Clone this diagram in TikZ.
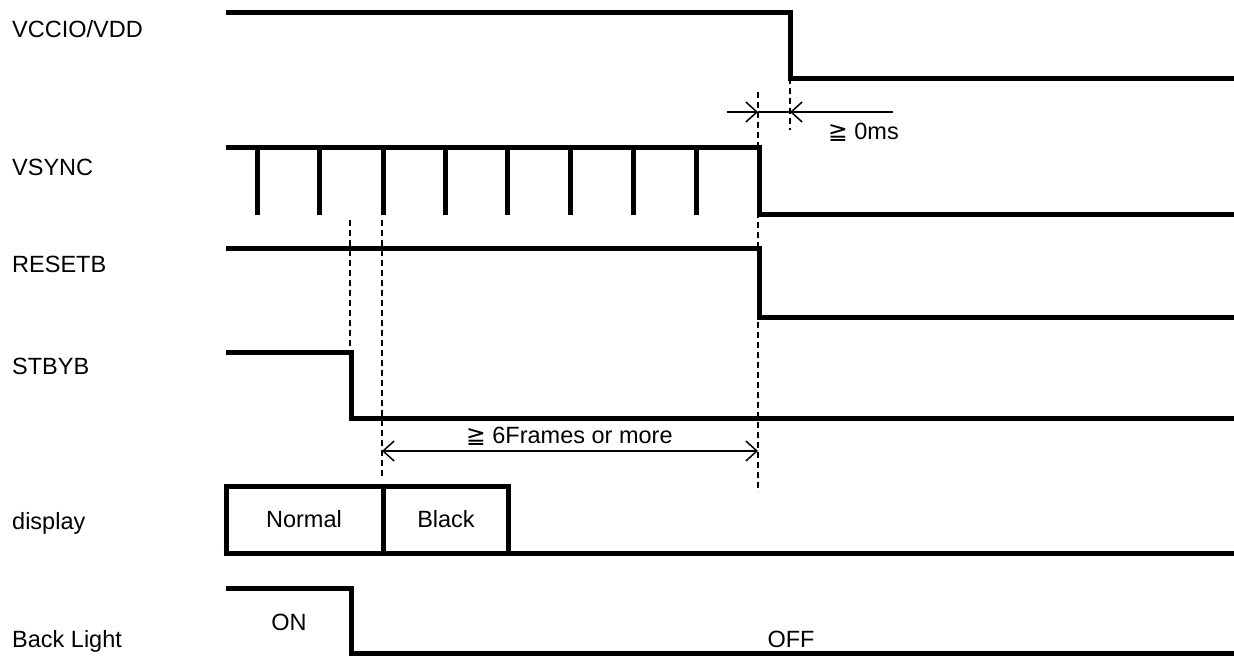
\documentclass[tikz,border=0pt]{standalone}
\usepackage{fontspec}
\setmainfont{Liberation Sans}
\newfontfamily\symfont{DejaVu Sans}
\usetikzlibrary{arrows.meta}
\begin{document}
\begin{tikzpicture}[x=1pt,y=-1pt,
  sig/.style={line width=5pt,line join=miter},
  guide/.style={line width=1.6pt,dash pattern=on 6pt off 4pt},
  dim/.style={line width=1.5pt,-{Straight Barb[length=11pt,width=20pt,line width=1.5pt]}},
  lbl/.style={anchor=base west,inner sep=0pt,font=\fontsize{23.5}{26}\selectfont},
  txt/.style={anchor=base,inner sep=0pt,font=\fontsize{23.5}{26}\selectfont}]
\useasboundingbox (0,0) rectangle (1234,657);
% labels
\node[lbl] (lv) at (12,37) {VCCIO/VDD};
\node[lbl] (ls) at (12,175) {VSYNC};
\node[lbl] (lr) at (12,272) {RESETB};
\node[lbl] (lb) at (12,374) {STBYB};
\node[lbl] (ld) at (12,529) {display};
\node[lbl] (ll) at (12,647) {Back Light};
% guides
\draw[guide] (758,92) -- (758,492);
\draw[guide] (790,78) -- (790,130);
\draw[guide] (350,220) -- (350,352);
\draw[guide] (382,220) -- (382,477);
% VCCIO
\draw[sig] (226,12) -- (790,12) -- (790,78) -- (1234,78);
% VSYNC
\draw[sig] (226,147) -- (759,147) -- (759,214) -- (1234,214);
\foreach \x in {257,319,383,445,507,570,633,696} \draw[sig] (\x,147) -- (\x,215);
% RESETB
\draw[sig] (226,248) -- (759,248) -- (759,317) -- (1234,317);
% STBYB
\draw[sig] (226,352) -- (351,352) -- (351,418) -- (1234,418);
% display
\draw[sig] (226,553) -- (226,486) -- (508,486) -- (508,553);
\draw[sig] (223.5,553) -- (1234,553);
\draw[sig] (383,486) -- (383,553);
\node[txt] (nn) at (304,527) {Normal};
\node[txt] (nb) at (446,527) {Black};
% Back light
\draw[sig] (226,588) -- (351,588) -- (351,653) -- (1234,653);
\node[txt] (on) at (289,630) {ON};
\node[txt] (off) at (791,647) {OFF};
% >= 0ms
\coordinate (a1) at (727,112);
\coordinate (a2) at (758,112);
\coordinate (a3) at (790,112);
\coordinate (a4) at (893,112);
\draw[dim] (a1) -- (a2);
\draw[line width=1.5pt] (a2) -- (a3);
\draw[dim] (a4) -- (a3);
\node[txt,anchor=base west] (t0) at (828,139) {{\symfont ≧} 0ms};
% >= 6 frames
\coordinate (f1) at (382,451);
\coordinate (f2) at (758,451);
\draw[dim,{Straight Barb[length=11pt,width=20pt,line width=1.5pt]}-{Straight Barb[length=11pt,width=20pt,line width=1.5pt]}] (f1) -- (f2);
\node[txt,anchor=base west] (t6) at (466,443) {{\symfont ≧} 6Frames or more};
\end{tikzpicture}
\end{document}
